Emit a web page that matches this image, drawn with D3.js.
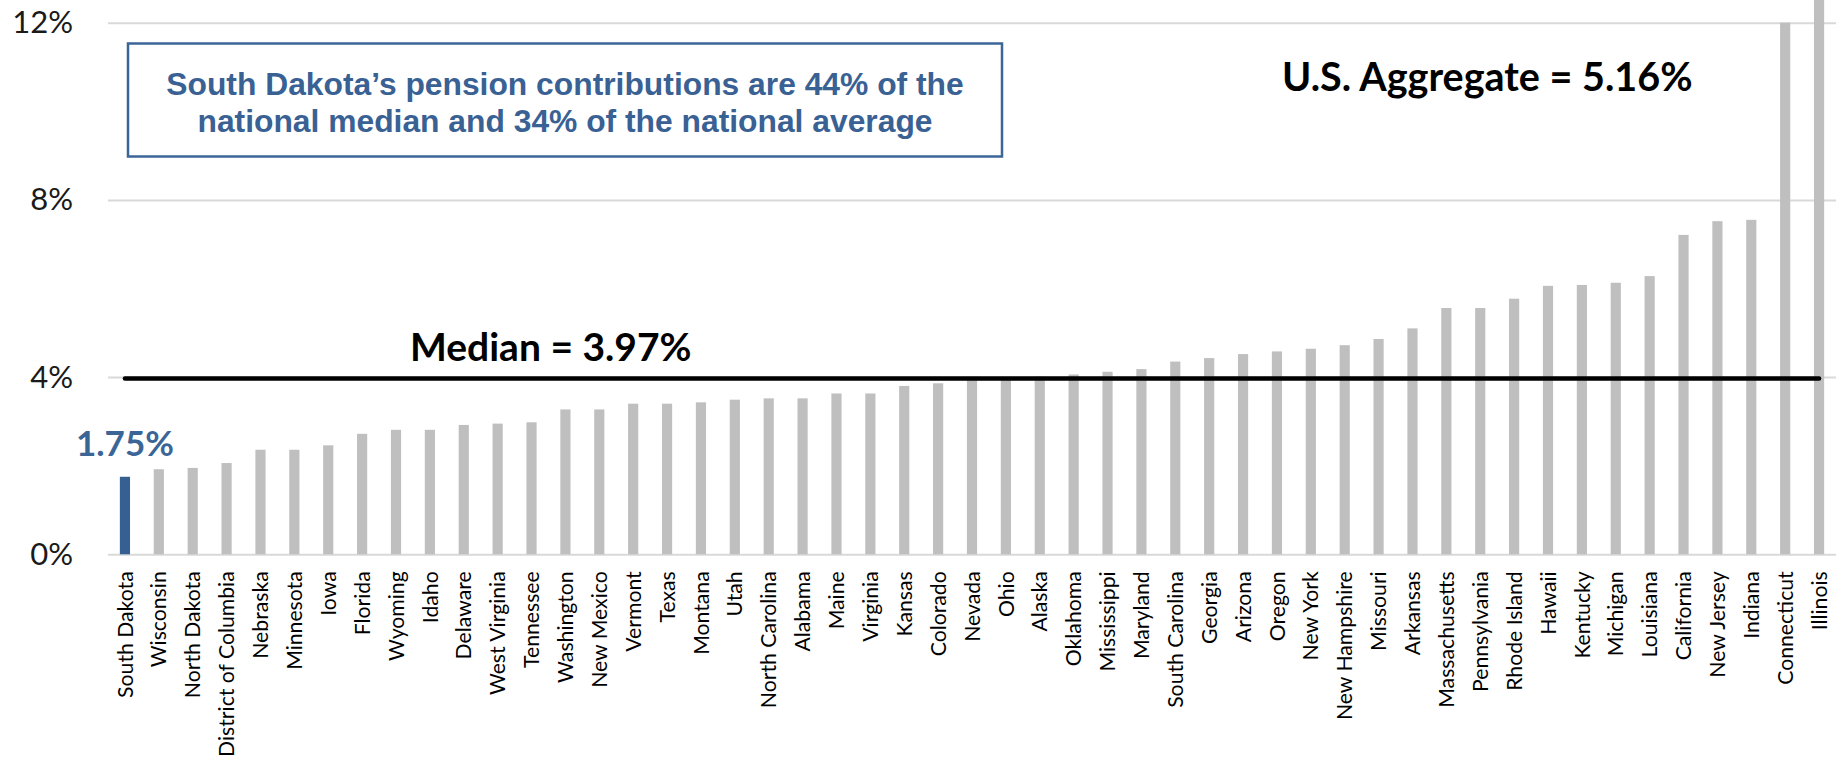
<!DOCTYPE html>
<html>
<head>
<meta charset="utf-8">
<script src="https://cdn.jsdelivr.net/npm/d3@7"></script>
<style>
  html, body { margin: 0; padding: 0; background: #fff; }
  svg { display: block; }
</style>
</head>
<body>
<svg id="chart" width="1847" height="764"></svg>
<script>
// Pension contributions as a share of revenue, by state (sorted ascending)
const states = [
  "South Dakota", "Wisconsin", "North Dakota", "District of Columbia", "Nebraska",
  "Minnesota", "Iowa", "Florida", "Wyoming", "Idaho", "Delaware", "West Virginia",
  "Tennessee", "Washington", "New Mexico", "Vermont", "Texas", "Montana", "Utah",
  "North Carolina", "Alabama", "Maine", "Virginia", "Kansas", "Colorado", "Nevada",
  "Ohio", "Alaska", "Oklahoma", "Mississippi", "Maryland", "South Carolina",
  "Georgia", "Arizona", "Oregon", "New York", "New Hampshire", "Missouri",
  "Arkansas", "Massachusetts", "Pennsylvania", "Rhode Island", "Hawaii", "Kentucky",
  "Michigan", "Louisiana", "California", "New Jersey", "Indiana", "Connecticut",
  "Illinois"
];
const contributionPct = [
  1.75, 1.92, 1.95, 2.06, 2.36,
  2.36, 2.46, 2.72, 2.81, 2.81, 2.92, 2.95,
  2.98, 3.27, 3.27, 3.40, 3.40, 3.43, 3.49,
  3.52, 3.52, 3.63, 3.63, 3.80, 3.86, 3.97,
  3.99, 4.01, 4.06, 4.12, 4.18, 4.35,
  4.43, 4.52, 4.58, 4.64, 4.72, 4.86,
  5.10, 5.56, 5.56, 5.77, 6.06, 6.08,
  6.13, 6.28, 7.21, 7.52, 7.55, 12.0,
  13.6
];
const yTicks = [0, 4, 8, 12];
const highlightState = "South Dakota";
const medianPct = 3.97;
const aggregatePct = 5.16;
const noteLines = [
  "South Dakota\u2019s pension contributions are 44% of the",
  "national median and 34% of the national average"
];

const svg = d3.select("#chart");
const plot = { left: 108, right: 1836, top: 22.7, bottom: 554.3 };

const x = d3.scaleBand()
  .domain(states)
  .range([plot.left, plot.right])
  .paddingInner(0.7)
  .paddingOuter(0.35);

const y = d3.scaleLinear()
  .domain([0, 12])
  .range([plot.bottom, plot.top]);

const LABEL_FONT = "Lato, 'Open Sans', sans-serif";

// Horizontal gridlines with percent labels
const yAxis = svg.append("g")
  .attr("transform", `translate(${plot.left},0)`)
  .call(d3.axisLeft(y)
    .tickValues(yTicks)
    .tickSize(-(plot.right - plot.left))
    .tickPadding(35)
    .tickFormat(d => d + "%"));
yAxis.select(".domain").remove();
yAxis.selectAll(".tick line")
  .attr("stroke", "#d9d9d9")
  .attr("stroke-width", 2);
yAxis.selectAll(".tick text")
  .attr("fill", "#1a1a1a")
  .style("font-family", LABEL_FONT)
  .style("font-size", "31px");

// Bars
svg.append("g")
  .selectAll("rect")
  .data(states.map((s, i) => ({ state: s, value: contributionPct[i] })))
  .join("rect")
  .attr("x", d => x(d.state))
  .attr("width", x.bandwidth())
  .attr("y", d => y(d.value))
  .attr("height", d => y(0) - y(d.value))
  .attr("fill", d => d.state === highlightState ? "#376092" : "#bfbfbf");

// Category axis with vertical state names
const xAxis = svg.append("g")
  .attr("transform", `translate(0,${plot.bottom})`)
  .call(d3.axisBottom(x).tickSize(0));
xAxis.select(".domain").remove();
xAxis.selectAll(".tick text")
  .attr("transform", "rotate(-90)")
  .attr("text-anchor", "end")
  .attr("x", -17)
  .attr("y", 0)
  .attr("dy", "0.36em")
  .attr("fill", "#000")
  .style("font-family", LABEL_FONT)
  .style("font-size", "21.2px");

// Median reference line across the categories
const medianLine = d3.line()
  .x(s => x(s) + x.bandwidth() / 2)
  .y(() => y(medianPct));
svg.append("path")
  .datum([states[0], states[states.length - 1]])
  .attr("d", medianLine)
  .attr("fill", "none")
  .attr("stroke", "#000")
  .attr("stroke-width", 4.5)
  .attr("stroke-linecap", "round");

svg.append("text")
  .attr("x", 410)
  .attr("y", y(medianPct) - 17)
  .attr("fill", "#000")
  .style("font-family", LABEL_FONT)
  .style("font-weight", 700)
  .style("font-size", "39px")
  .text(`Median = ${medianPct.toFixed(2)}%`);

svg.append("text")
  .attr("x", 1282)
  .attr("y", 91)
  .attr("fill", "#000")
  .style("font-family", LABEL_FONT)
  .style("font-weight", 700)
  .style("font-size", "39.5px")
  .text(`U.S. Aggregate = ${aggregatePct.toFixed(2)}%`);

// Value label for the highlighted state
const hiValue = contributionPct[states.indexOf(highlightState)];
svg.append("text")
  .attr("x", x(highlightState) + x.bandwidth() / 2)
  .attr("y", y(hiValue) - 21)
  .attr("text-anchor", "middle")
  .attr("fill", "#3a6596")
  .style("font-family", LABEL_FONT)
  .style("font-weight", 700)
  .style("font-size", "35px")
  .text(hiValue.toFixed(2) + "%");

// Callout box
const box = { x: 128, y: 43.5, w: 874, h: 113 };
svg.append("rect")
  .attr("x", box.x)
  .attr("y", box.y)
  .attr("width", box.w)
  .attr("height", box.h)
  .attr("fill", "#fff")
  .attr("stroke", "#3b6597")
  .attr("stroke-width", 2.5);
svg.append("g")
  .selectAll("text")
  .data(noteLines)
  .join("text")
  .attr("x", box.x + box.w / 2)
  .attr("y", (d, i) => 94.5 + i * 37.5)
  .attr("text-anchor", "middle")
  .attr("fill", "#3a6194")
  .style("font-family", "'Liberation Sans', Arial, sans-serif")
  .style("font-weight", 700)
  .style("font-size", "31.8px")
  .text(d => d);
</script>
</body>
</html>
